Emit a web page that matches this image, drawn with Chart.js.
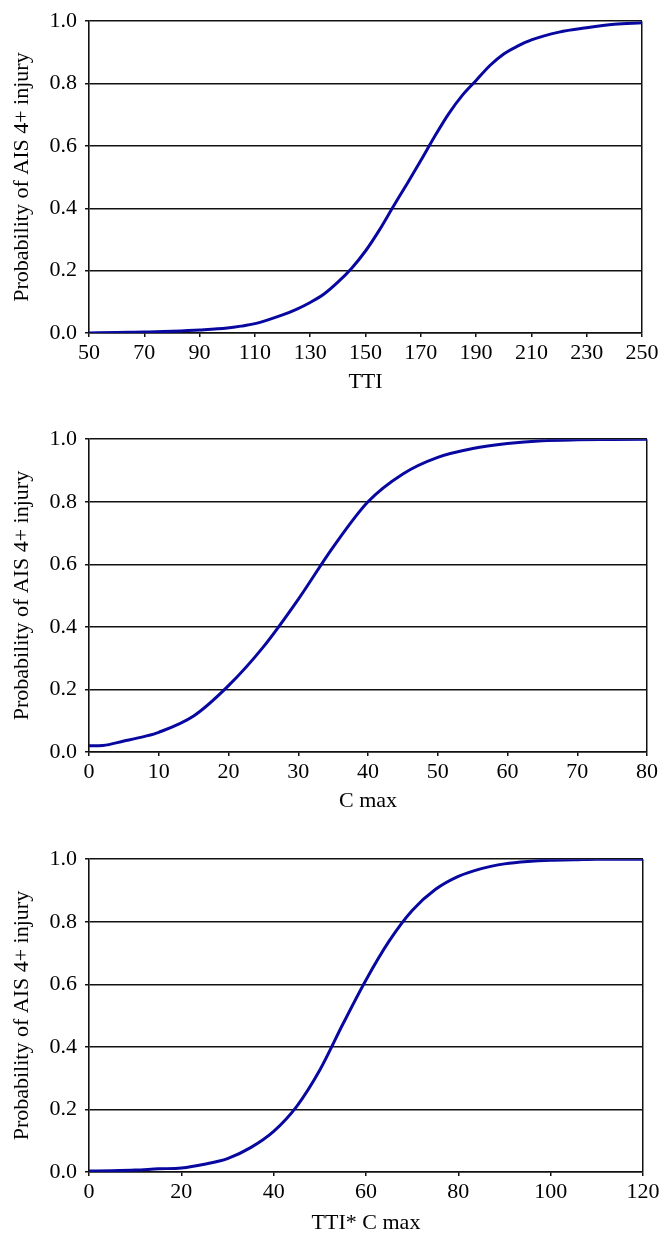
<!DOCTYPE html>
<html>
<head>
<meta charset="utf-8">
<script src="https://cdn.jsdelivr.net/npm/chart.js@4/dist/chart.umd.min.js"></script>
<style>
  html, body { margin: 0; padding: 0; background: #fff; width: 669px; height: 1243px; overflow: hidden; }
  .box { position: absolute; left: 0; width: 669px; }
  canvas { display: block; }
</style>
</head>
<body>
<div class="box" style="top:0px;height:400px"><canvas id="c1" width="669" height="400"></canvas></div>
<div class="box" style="top:418px;height:400px"><canvas id="c2" width="669" height="400"></canvas></div>
<div class="box" style="top:838px;height:400px"><canvas id="c3" width="669" height="400"></canvas></div>
<script>
// ---------- data ----------
const yTitle = "Probability of AIS 4+ injury";
const yTicks = [0, 0.2, 0.4, 0.6, 0.8, 1.0];

// Chart 1: TTI
const tti = [50, 60, 70, 80, 90, 100, 105, 110, 115, 120, 125, 130, 135, 140, 145, 150, 155, 160, 165, 170, 175, 180, 185, 190, 195, 200, 205, 210, 220, 230, 240, 250];
const probTTI = [0.000, 0.002, 0.003, 0.006, 0.010, 0.016, 0.022, 0.030, 0.043, 0.058, 0.076, 0.098, 0.125, 0.163, 0.208, 0.263, 0.330, 0.405, 0.478, 0.553, 0.630, 0.702, 0.762, 0.810, 0.858, 0.895, 0.920, 0.940, 0.965, 0.979, 0.990, 0.995];
const xTicksTTI = [50, 70, 90, 110, 130, 150, 170, 190, 210, 230, 250];

// Chart 2: C max
const cmax = [0, 2, 5, 8, 10, 15, 20, 25, 30, 35, 40, 45, 50, 55, 60, 65, 70, 75, 80];
const probCmax = [0.020, 0.021, 0.035, 0.050, 0.063, 0.115, 0.212, 0.336, 0.488, 0.655, 0.800, 0.889, 0.942, 0.970, 0.986, 0.995, 0.998, 0.999, 1.000];
const xTicksCmax = [0, 10, 20, 30, 40, 50, 60, 70, 80];

// Chart 3: TTI* C max
const ttiCmax = [0, 5, 10, 15, 20, 25, 30, 35, 40, 45, 50, 55, 60, 65, 70, 75, 80, 85, 90, 95, 100, 105, 110, 115, 120];
const probTTICmax = [0.003, 0.004, 0.006, 0.010, 0.013, 0.025, 0.043, 0.078, 0.130, 0.210, 0.326, 0.473, 0.614, 0.738, 0.836, 0.903, 0.945, 0.970, 0.985, 0.993, 0.997, 0.998, 1.000, 1.000, 1.000];
const xTicksTTICmax = [0, 20, 40, 60, 80, 100, 120];

// ---------- drawing ----------
const FONT = "'Liberation Serif', 'Times New Roman', serif";
const INK = '#111';
const LINE = '#0808a0';

function makeChart(id, xs, ys, xTicks, xTitle, cfg) {
  const pts = xs.map((x, i) => ({ x: x, y: ys[i] }));
  const lastIdx = xTicks.length - 1;
  return new Chart(document.getElementById(id), {
    type: 'line',
    data: { datasets: [{ data: pts, borderColor: LINE, borderWidth: 3, pointRadius: 0, cubicInterpolationMode: 'monotone', fill: false }] },
    options: {
      responsive: false,
      devicePixelRatio: 1,
      animation: false,
      events: [],
      layout: { padding: { top: cfg.top, right: cfg.right, left: 0, bottom: 0 } },
      plugins: { legend: { display: false }, tooltip: { enabled: false } },
      scales: {
        x: {
          type: 'linear',
          min: xTicks[0], max: xTicks[lastIdx],
          afterBuildTicks: s => { s.ticks = xTicks.map(v => ({ value: v })); },
          afterFit: s => { s.height = cfg.xh; },
          ticks: { font: { family: FONT, size: 22 }, color: '#000', padding: 3, maxRotation: 0, autoSkip: false },
          grid: {
            color: c => (c.index === lastIdx ? INK : 'rgba(0,0,0,0)'),
            lineWidth: 1.5, tickColor: INK, tickLength: 4, drawOnChartArea: true
          },
          border: { display: true, color: INK, width: 1.6 },
          title: { display: true, text: xTitle, color: '#000', font: { family: FONT, size: 22, lineHeight: 1.2 }, padding: { top: 0, bottom: cfg.tb } }
        },
        y: {
          min: 0, max: 1,
          afterBuildTicks: s => { s.ticks = yTicks.map(v => ({ value: v })); },
          afterFit: s => { s.width = 89; },
          ticks: { font: { family: FONT, size: 22 }, color: '#000', padding: 8, callback: v => Number(v).toFixed(1) },
          grid: { color: INK, lineWidth: 1.5, tickColor: INK, tickLength: 4 },
          border: { display: true, color: INK, width: 1.6 },
          title: { display: true, text: yTitle, color: '#000', font: { family: FONT, size: 22, lineHeight: 1.2 }, padding: { top: 9, bottom: 0 } }
        }
      }
    }
  });
}

makeChart('c1', tti, probTTI, xTicksTTI, 'TTI', { top: 16, right: 27, xh: 67, tb: 5 });
makeChart('c2', cmax, probCmax, xTicksCmax, 'C max', { top: 16, right: 22, xh: 66, tb: 4 });
makeChart('c3', ttiCmax, probTTICmax, xTicksTTICmax, 'TTI* C max', { top: 16, right: 26, xh: 66, tb: 2 });
</script>
</body>
</html>
